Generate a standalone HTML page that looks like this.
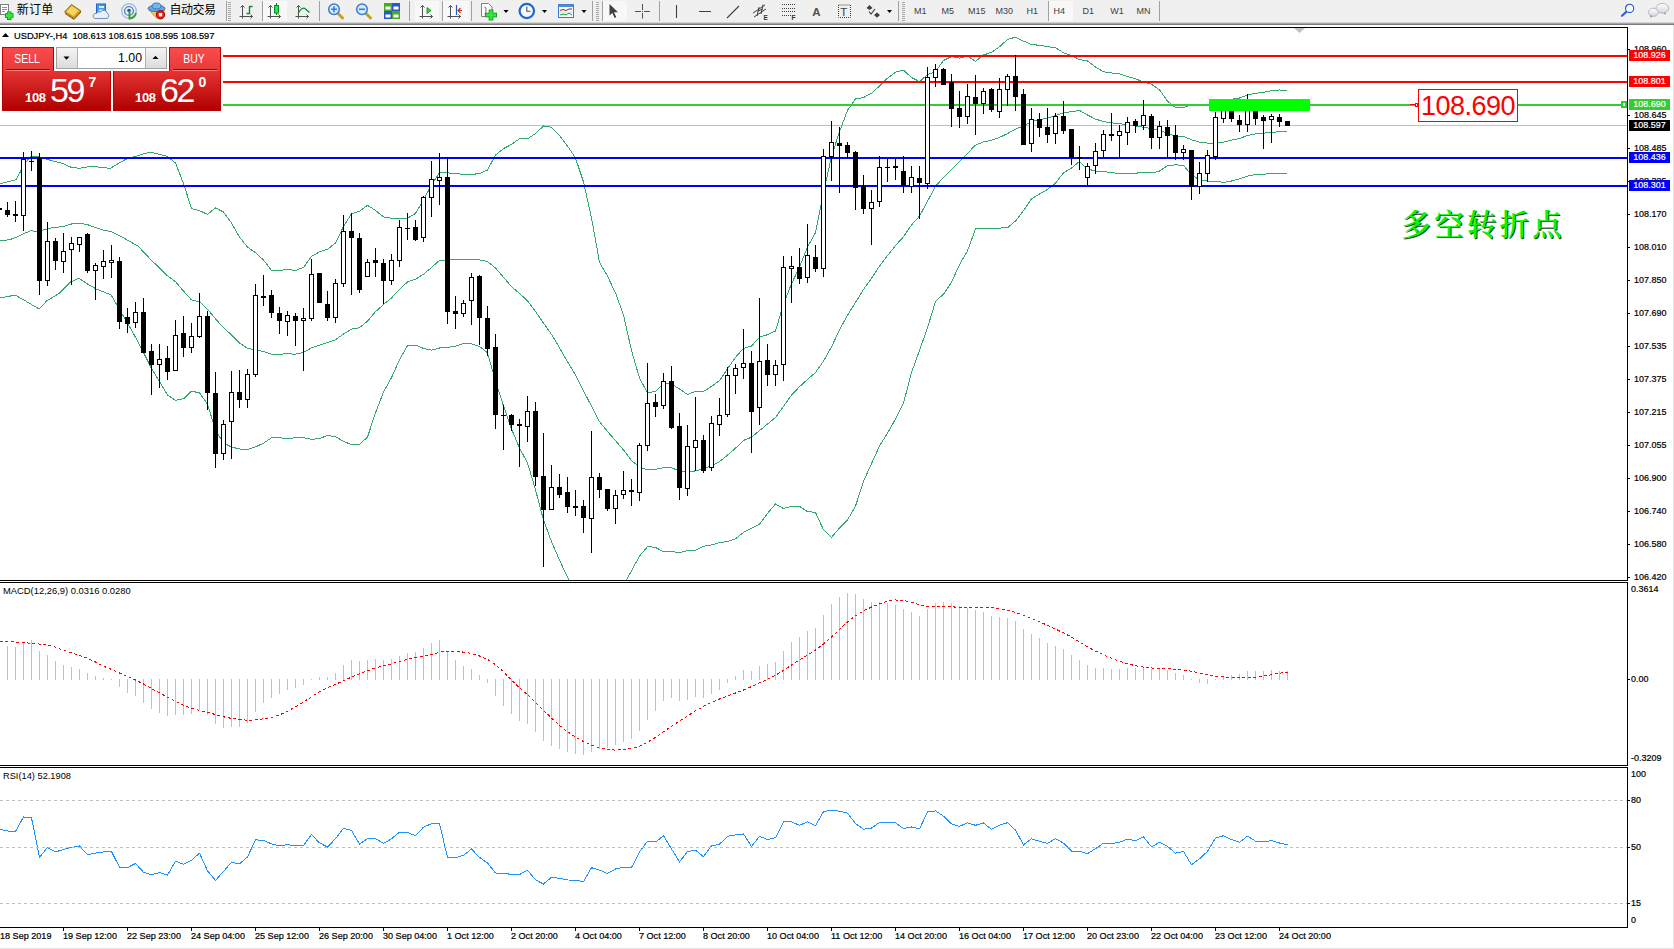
<!DOCTYPE html>
<html><head><meta charset="utf-8"><title>USDJPY H4</title>
<style>
html,body{margin:0;padding:0;background:#fff;}
body{width:1674px;height:949px;position:relative;overflow:hidden;font-family:"Liberation Sans","Noto Sans CJK SC",sans-serif;color:#000;}
.abs{position:absolute;}
#tb{left:0;top:0;width:1674px;height:23px;background:#f0f0f0;}
#tbl{left:0;top:22px;width:1674px;height:3px;background:linear-gradient(#d4d4d4 0 33.3%,#a4a4a4 33.3% 66.6%,#7c7c7c 66.6% 100%);}
#topline{left:0;top:27px;width:1628px;height:1px;background:#000;}
.t{position:absolute;white-space:nowrap;line-height:1;}
.axl,.tl,.plab,#title,.sm{-webkit-text-stroke:0.2px currentColor;}
.tf{position:absolute;top:6px;font-size:9px;color:#404040;white-space:nowrap;line-height:11px;}
.cj{position:absolute;top:3px;font-size:12px;line-height:14px;font-family:"Liberation Sans","Noto Sans CJK SC",sans-serif;white-space:nowrap;color:#000;}
.sep{position:absolute;top:2px;width:1px;height:19px;background:#c4c4c4;}
.grip{position:absolute;top:2px;width:3px;height:19px;background:repeating-linear-gradient(#f0f0f0 0 1px,#a8a8a8 1px 2px);}
.axl{position:absolute;left:1633.6px;margin-top:0.4px;font-size:8.8px;line-height:11px;white-space:nowrap;color:#000;transform:scaleX(1.02);transform-origin:0 50%;}
.tick{position:absolute;left:1627px;width:3px;height:1px;background:#000;}
.plab{position:absolute;left:1629px;width:41px;height:11px;color:#fff;text-align:center;white-space:nowrap;font-size:8.8px;line-height:11px;overflow:hidden;}.plab span{display:block;width:41px;height:11px;padding-top:0.4px;transform:scaleX(1.02);transform-origin:50% 50%;}
.tl{position:absolute;top:931.4px;font-size:8.8px;line-height:11px;white-space:nowrap;color:#000;transform:scaleX(1.031);transform-origin:0 50%;}
.tt{position:absolute;top:927px;width:1px;height:4px;background:#000;}
</style></head><body>
<!-- toolbar -->
<div class="abs" id="tb"></div><div class="abs" id="tbl"></div>
<svg class="abs" style="left:0;top:0" width="1674" height="26" viewBox="0 0 1674 26">
<rect x="263" y="1" width="24" height="20" fill="#f8f8f8"/>
<rect x="415" y="1" width="24" height="20" fill="#f8f8f8"/>
<rect x="443" y="1" width="26" height="20" fill="#f8f8f8"/>
<rect x="603" y="1" width="24" height="20" fill="#f8f8f8"/>
<rect x="1049" y="1" width="24" height="20" fill="#f8f8f8"/>
<rect x="226" y="1" width="1" height="20" fill="#a0a0a0"/>
<rect x="262" y="1" width="1" height="20" fill="#a0a0a0"/>
<rect x="319" y="1" width="1" height="20" fill="#a0a0a0"/>
<rect x="409" y="1" width="1" height="20" fill="#a0a0a0"/>
<rect x="442" y="1" width="1" height="20" fill="#a0a0a0"/>
<rect x="471" y="1" width="1" height="20" fill="#a0a0a0"/>
<rect x="592" y="1" width="1" height="20" fill="#a0a0a0"/>
<rect x="602" y="1" width="1" height="20" fill="#a0a0a0"/>
<rect x="659" y="1" width="1" height="20" fill="#a0a0a0"/>
<rect x="898" y="1" width="1" height="20" fill="#a0a0a0"/>
<rect x="1048" y="1" width="1" height="20" fill="#a0a0a0"/>
<rect x="1159" y="1" width="1" height="20" fill="#a0a0a0"/>
<g fill="#a8a8a8"><rect x="228" y="2" width="3" height="1"/><rect x="228" y="4" width="3" height="1"/><rect x="228" y="6" width="3" height="1"/><rect x="228" y="8" width="3" height="1"/><rect x="228" y="10" width="3" height="1"/><rect x="228" y="12" width="3" height="1"/><rect x="228" y="14" width="3" height="1"/><rect x="228" y="16" width="3" height="1"/><rect x="228" y="18" width="3" height="1"/><rect x="228" y="20" width="3" height="1"/></g>
<g fill="#a8a8a8"><rect x="596" y="2" width="3" height="1"/><rect x="596" y="4" width="3" height="1"/><rect x="596" y="6" width="3" height="1"/><rect x="596" y="8" width="3" height="1"/><rect x="596" y="10" width="3" height="1"/><rect x="596" y="12" width="3" height="1"/><rect x="596" y="14" width="3" height="1"/><rect x="596" y="16" width="3" height="1"/><rect x="596" y="18" width="3" height="1"/><rect x="596" y="20" width="3" height="1"/></g>
<g fill="#a8a8a8"><rect x="902" y="2" width="3" height="1"/><rect x="902" y="4" width="3" height="1"/><rect x="902" y="6" width="3" height="1"/><rect x="902" y="8" width="3" height="1"/><rect x="902" y="10" width="3" height="1"/><rect x="902" y="12" width="3" height="1"/><rect x="902" y="14" width="3" height="1"/><rect x="902" y="16" width="3" height="1"/><rect x="902" y="18" width="3" height="1"/><rect x="902" y="20" width="3" height="1"/></g>
<g><rect x="0.5" y="4.5" width="8" height="10" fill="#fff" stroke="#808080"/><path d="M2 7.5H7M2 9.5H7M2 11.5H5" stroke="#909090"/><path d="M5 15.5H13.5M9.2 11.5V20" stroke="#109010" stroke-width="4.4"/><path d="M5.8 15.5H12.7M9.2 12.3V19.2" stroke="#30e840" stroke-width="2.8"/></g>
<g><polygon points="64.5,12 71.5,4.5 81,11 74,18.5" fill="#d9a520" stroke="#9a6b10" stroke-width="1"/><polygon points="66.5,11.5 71.8,6 78.5,10.5 73.5,16" fill="#f7d560"/><path d="M65 13.5L74 19.5L81 12" stroke="#8a5a10" fill="none"/></g>
<g><rect x="96.5" y="4" width="9" height="9" fill="#4a9ae8" stroke="#1f66c0"/><rect x="99" y="6" width="5" height="2" fill="#d8ecff"/><rect x="99" y="9.5" width="4" height="1.5" fill="#d8ecff"/><path d="M95 18.5h12a3 3 0 0 0 0-5.5a3.5 3.5 0 0 0-6.5-1a3 3 0 0 0-4 1.5a2.6 2.6 0 0 0-1.5 5z" fill="#e8f0fa" stroke="#6f8fc0" stroke-width="1"/></g>
<g fill="none"><circle cx="129" cy="11" r="7.3" stroke="#9fc0e6" stroke-width="1.4"/><circle cx="129" cy="11" r="4.4" stroke="#4f86d0" stroke-width="1.4"/><circle cx="129" cy="10.5" r="1.8" fill="#1f56b0"/><path d="M129.5 11V18.5A7.5 7.5 0 0 0 136 13" stroke="#3aa03a" stroke-width="2"/></g>
<g><path d="M149 10L157 18.5L165 10Z" fill="#f5cf4a" stroke="#c89a20"/><ellipse cx="156.5" cy="8.5" rx="8.5" ry="3.2" fill="#6aa4e0" stroke="#3a74c0"/><ellipse cx="156.5" cy="6" rx="4.5" ry="3" fill="#7ab4ee" stroke="#3a74c0"/><circle cx="160.5" cy="14.7" r="4.2" fill="#e02020" stroke="#a00000"/><rect x="158.8" y="13" width="3.4" height="3.4" fill="#fff"/></g>
<g stroke="#505050" stroke-width="1" fill="none"><path d="M242.5 5.5V18.5M239.5 16.5H252.5M240.5 7.5L242.5 5.5L244.5 7.5M250.5 14.5L252.5 16.5L250.5 18.5"/></g>
<path d="M249.5 6.5H252.5M249.5 6V14M246.5 13.5H249.5" stroke="#0a8a2a" stroke-width="1.4" fill="none"/>
<g stroke="#505050" stroke-width="1" fill="none"><path d="M270.5 5.5V18.5M267.5 16.5H280.5M268.5 7.5L270.5 5.5L272.5 7.5M278.5 14.5L280.5 16.5L278.5 18.5"/></g>
<path d="M276.5 3V15" stroke="#0a7a1a"/><rect x="274.5" y="5.5" width="4" height="7.5" fill="#30e050" stroke="#0a8a2a"/>
<g stroke="#505050" stroke-width="1" fill="none"><path d="M298.5 5.5V18.5M295.5 16.5H308.5M296.5 7.5L298.5 5.5L300.5 7.5M306.5 14.5L308.5 16.5L306.5 18.5"/></g>
<path d="M298 13.5C300.5 9 303.5 7 305.5 9L309.5 12.5" stroke="#0a8a2a" stroke-width="1.2" fill="none"/>
<g><path d="M338 13.5L342.5 18" stroke="#c8a020" stroke-width="3" stroke-linecap="round"/><circle cx="334" cy="9.3" r="5.3" fill="#d8ecff" stroke="#3a7ad0" stroke-width="1.5"/><path d="M331 9.3H337M334 6.3V12.3" stroke="#3a7ad0" stroke-width="1.6"/></g>
<g><path d="M366 13.5L370.5 18" stroke="#c8a020" stroke-width="3" stroke-linecap="round"/><circle cx="362" cy="9.3" r="5.3" fill="#d8ecff" stroke="#3a7ad0" stroke-width="1.5"/><path d="M359 9.3H365" stroke="#3a7ad0" stroke-width="1.6"/></g>
<g><rect x="384" y="3" width="8" height="8" fill="#48a828"/><rect x="392" y="3" width="8" height="8" fill="#2858c8"/><rect x="384" y="11" width="8" height="8" fill="#2858c8"/><rect x="392" y="11" width="8" height="8" fill="#48a828"/><g fill="#fff"><rect x="385.5" y="6.5" width="5" height="3"/><rect x="393.5" y="6.5" width="5" height="3"/><rect x="385.5" y="14.5" width="5" height="3"/><rect x="393.5" y="14.5" width="5" height="3"/></g></g>
<g stroke="#505050" stroke-width="1" fill="none"><path d="M422.5 5.5V18.5M419.5 16.5H432.5M420.5 7.5L422.5 5.5L424.5 7.5M430.5 14.5L432.5 16.5L430.5 18.5"/></g>
<polygon points="427,7.5 431,10.5 427,13.7" fill="#40d040" stroke="#0a8a2a" stroke-width="0.8"/>
<g stroke="#505050" stroke-width="1" fill="none"><path d="M450.5 5.5V18.5M447.5 16.5H460.5M448.5 7.5L450.5 5.5L452.5 7.5M458.5 14.5L460.5 16.5L458.5 18.5"/></g>
<path d="M456.5 5V15" stroke="#2060c0" stroke-width="1.2"/><path d="M462 10.5H458.5M460.5 8L458 10.5L460.5 13" stroke="#d03010" stroke-width="1.2" fill="none"/>
<g><path d="M481.5 3.5h7l3.5 3.5v9.5h-10.5z" fill="#fff" stroke="#808080"/><path d="M484.5 7c2-1 2 8 0 7" stroke="#606060" fill="none"/><path d="M485 15H497M491 9.5V20.6" stroke="#109010" stroke-width="4.6"/><path d="M485.8 15H496.2M491 10.3V19.8" stroke="#30e840" stroke-width="3"/></g>
<polygon points="503.5,10 508.5,10 506.0,13" fill="#000"/>
<polygon points="542,10 547,10 544.5,13" fill="#000"/>
<polygon points="581.5,10 586.5,10 584.0,13" fill="#000"/>
<polygon points="887,10 892,10 889.5,13" fill="#000"/>
<g><circle cx="526.8" cy="11" r="7.2" fill="#f4f8ff" stroke="#1f66d0" stroke-width="2.2"/><path d="M526.8 6.5V11.2H530.5" stroke="#505050" stroke-width="1.1" fill="none"/></g>
<g><rect x="558.5" y="4.5" width="15" height="13" fill="#f8fbff" stroke="#3a7ad0"/><rect x="558.5" y="4.5" width="15" height="2.5" fill="#4a8ae0"/><path d="M560 10.5l3-1l3 1l3-1.5l3 0" stroke="#a02010" fill="none"/><path d="M560 15l3-1l3 1l3-2l3 2" stroke="#10a030" fill="none"/><path d="M559 12.2H573" stroke="#b0c8e8" stroke-width="0.6"/></g>
<polygon points="609.5,4 609.5,15.5 612.3,13 614.6,18 616.3,17.2 614,12.3 618,12.3" fill="#404040"/>
<path d="M642.5 4V10M642.5 13V18.5M635 11.5H641M644 11.5H650" stroke="#505050" stroke-width="1"/><rect x="642" y="11" width="1" height="1" fill="#505050"/>
<path d="M676.5 5V18M699 11.5H711M727 18L739 6" stroke="#404040" stroke-width="1.1" fill="none"/>
<g stroke="#404040" fill="none" stroke-width="1"><path d="M753 13L765 5M754 17L766 9M757 16L759 7M761 14L763 4.5M758 11L763 9"/></g><text x="763.5" y="20" font-size="6.5" font-weight="bold" fill="#303030" font-family="Liberation Sans, sans-serif">E</text>
<g stroke="#404040" stroke-width="1" stroke-dasharray="1,1"><path d="M782 4.5H795M782 8.5H795M782 11.5H795M782 15.5H791"/></g><text x="791.5" y="20" font-size="6.5" font-weight="bold" fill="#303030" font-family="Liberation Sans, sans-serif">F</text>
<text x="812.3" y="16" font-size="11.5" font-weight="bold" fill="#505050" font-family="Liberation Sans, sans-serif">A</text>
<rect x="838.5" y="5" width="12" height="12.5" fill="none" stroke="#404040" stroke-dasharray="1,1"/><text x="840.3" y="15.8" font-size="11.5" fill="#404040" font-family="Liberation Sans, sans-serif">T</text>
<g fill="#404040"><polygon points="866.5,8 869.5,5 872.5,8 869.5,10"/><polygon points="874,15 877,12.5 880,15 877,17.8"/><path d="M869 11.5l2 2.5l4-5" stroke="#404040" fill="none" stroke-width="1.2"/></g>
<g><path d="M1626.4 11.8L1622 15.8" stroke="#3060d8" stroke-width="2.2" stroke-linecap="round"/><circle cx="1629.6" cy="8.4" r="4.1" fill="#f6f8ff" stroke="#2050d0" stroke-width="1.1"/></g>
<defs><linearGradient id="bub" x1="0" y1="0" x2="0" y2="1"><stop offset="0" stop-color="#ffffff"/><stop offset="1" stop-color="#d4d4e4"/></linearGradient></defs><g><ellipse cx="1662.3" cy="8.3" rx="6.4" ry="4.9" fill="url(#bub)" stroke="#b0b0b8" stroke-width="0.9"/><path d="M1664 13l1.2 2l0.3-2.3z" fill="#707070"/><ellipse cx="1653.3" cy="12.3" rx="4.9" ry="4.1" fill="url(#bub)" stroke="#b0b0b8" stroke-width="0.9"/><path d="M1650.5 15.5l-0.3 2.2l2-1.6z" fill="#707070"/></g>
</svg>
<div class="cj" style="left:16.8px;letter-spacing:0.2px">新订单</div>
<div class="cj" style="left:169.5px;letter-spacing:-0.5px">自动交易</div>
<div class="tf" style="left:914px">M1</div>
<div class="tf" style="left:941.5px">M5</div>
<div class="tf" style="left:968px">M15</div>
<div class="tf" style="left:995.5px">M30</div>
<div class="tf" style="left:1026.5px">H1</div>
<div class="tf" style="left:1053.6px">H4</div>
<div class="tf" style="left:1082.4px">D1</div>
<div class="tf" style="left:1110.3px">W1</div>
<div class="tf" style="left:1136.4px">MN</div>
<div class="abs" id="topline"></div>

<!-- chart svg -->
<svg class="abs" style="left:0;top:0" width="1674" height="949" viewBox="0 0 1674 949" shape-rendering="crispEdges">
<!-- grey current price line -->
<rect x="0" y="125" width="1627" height="1" fill="#c0c0c0"/>
<defs><clipPath id="cm"><rect x="0" y="28" width="1627" height="552"/></clipPath></defs>
<g shape-rendering="crispEdges" clip-path="url(#cm)">
<polyline points="0.0,183.6 10.0,181.4 16.0,179.7 20.2,172.1 25.0,163.0 30.3,157.0 36.2,156.1 43.8,158.3 50.6,160.3 62.4,163.4 70.8,167.1 79.2,168.4 91.0,166.2 101.0,167.4 110.4,168.4 118.0,163.7 126.4,159.0 138.2,155.6 148.3,152.5 151.5,152.5 159.5,154.4 167.5,156.5 175.5,163.1 183.5,183.5 191.5,208.6 199.5,210.6 207.5,214.4 215.5,207.9 223.5,212.0 231.5,223.0 239.5,237.2 247.5,247.1 255.5,252.7 263.5,260.0 271.5,270.6 279.5,270.5 287.5,269.4 295.5,270.5 303.5,267.4 311.5,256.5 319.5,251.8 327.5,249.2 335.5,243.1 343.5,226.5 351.5,213.7 359.5,211.2 367.5,205.3 375.5,210.5 383.5,216.9 391.5,218.2 399.5,218.7 407.5,218.3 415.5,213.3 423.5,199.9 431.5,184.8 439.5,172.6 447.5,172.9 455.5,173.5 463.5,174.5 471.5,174.5 479.5,173.5 487.5,170.1 495.5,155.0 503.5,148.6 511.5,144.4 519.5,138.8 527.5,138.8 535.5,133.5 543.5,126.0 551.5,127.2 559.5,135.5 567.5,146.0 575.5,158.1 583.5,181.9 591.5,217.8 599.5,262.3 607.5,276.2 615.5,292.9 623.5,315.0 631.5,350.5 639.5,378.0 647.5,392.9 655.5,391.3 663.5,383.6 671.5,384.0 679.5,389.0 687.5,394.5 695.5,391.4 703.5,391.5 711.5,386.4 719.5,380.7 727.5,368.7 735.5,357.4 743.5,348.4 751.5,346.0 759.5,337.2 767.5,334.7 775.5,331.0 783.5,304.2 791.5,283.8 799.5,267.1 807.5,247.1 815.5,232.5 823.5,192.7 831.5,156.5 839.5,131.7 847.5,110.3 855.5,98.9 863.5,97.5 871.5,93.2 879.5,86.0 887.5,78.2 895.5,72.2 903.5,70.2 911.5,77.5 919.5,81.6 927.5,74.7 935.5,71.5 943.5,60.5 951.5,56.5 959.5,58.1 967.5,56.0 975.5,61.3 983.5,55.0 991.5,52.3 999.5,46.8 1007.5,39.5 1015.5,37.1 1023.5,41.1 1031.5,44.5 1039.5,45.3 1047.5,46.6 1055.5,47.8 1063.5,52.7 1071.5,55.4 1079.5,59.6 1087.5,61.0 1095.5,67.1 1103.5,71.7 1111.5,73.0 1119.5,73.7 1127.5,76.6 1135.5,78.7 1143.5,82.2 1151.5,84.2 1159.5,89.8 1167.5,101.1 1175.5,107.6 1183.5,107.5 1191.5,104.6 1199.5,104.5 1207.5,105.2 1215.5,105.4 1223.5,101.8 1231.5,99.3 1239.5,98.0 1247.5,94.9 1255.5,93.4 1263.5,92.3 1271.5,90.7 1279.5,90.0 1287.5,90.3" fill="none" stroke="#32a86a" stroke-width="1"/>
<polyline points="0.0,240.8 10.0,239.6 17.0,237.0 23.6,233.7 31.2,230.6 36.2,231.7 50.6,228.1 64.0,226.4 72.5,223.7 79.2,223.1 87.7,224.7 101.0,229.5 111.3,231.7 118.0,234.9 128.0,240.4 138.2,246.3 151.5,260.4 159.5,267.9 167.5,275.8 175.5,281.7 183.5,291.1 191.5,299.9 199.5,301.7 207.5,309.2 215.5,318.9 223.5,327.6 231.5,335.0 239.5,343.1 247.5,348.3 255.5,349.8 263.5,351.6 271.5,354.2 279.5,354.2 287.5,353.8 295.5,354.2 303.5,352.5 311.5,347.9 319.5,345.1 327.5,342.4 335.5,339.8 343.5,334.0 351.5,329.1 359.5,327.7 367.5,321.2 375.5,311.7 383.5,304.5 391.5,297.9 399.5,289.3 407.5,282.0 415.5,279.2 423.5,274.2 431.5,267.5 439.5,260.3 447.5,260.1 455.5,259.8 463.5,259.1 471.5,259.2 479.5,259.9 487.5,261.5 495.5,268.1 503.5,277.3 511.5,286.6 519.5,293.4 527.5,300.9 535.5,311.6 543.5,323.1 551.5,334.4 559.5,347.8 567.5,361.7 575.5,375.1 583.5,391.1 591.5,406.0 599.5,421.6 607.5,431.5 615.5,440.6 623.5,449.9 631.5,460.6 639.5,467.0 647.5,469.8 655.5,469.4 663.5,467.6 671.5,467.8 679.5,470.9 687.5,472.6 695.5,470.8 703.5,468.9 711.5,465.6 719.5,461.7 727.5,455.1 735.5,448.2 743.5,440.4 751.5,437.2 759.5,430.7 767.5,424.0 775.5,417.5 783.5,406.4 791.5,395.1 799.5,386.7 807.5,379.4 815.5,372.5 823.5,361.2 831.5,346.9 839.5,329.9 847.5,315.2 855.5,302.5 863.5,289.4 871.5,278.4 879.5,266.0 887.5,255.6 895.5,245.6 903.5,236.7 911.5,225.0 919.5,216.1 927.5,201.2 935.5,186.4 943.5,177.3 951.5,169.4 959.5,161.3 967.5,153.4 975.5,145.1 983.5,141.9 991.5,140.2 999.5,137.4 1007.5,133.6 1015.5,129.1 1023.5,125.9 1031.5,121.7 1039.5,119.7 1047.5,118.0 1055.5,115.5 1063.5,112.7 1071.5,111.7 1079.5,110.5 1087.5,115.0 1095.5,119.1 1103.5,121.5 1111.5,122.9 1119.5,123.6 1127.5,124.9 1135.5,126.0 1143.5,127.2 1151.5,128.6 1159.5,130.4 1167.5,133.4 1175.5,136.2 1183.5,136.4 1191.5,139.8 1199.5,142.1 1207.5,143.1 1215.5,143.2 1223.5,142.1 1231.5,140.1 1239.5,138.5 1247.5,135.5 1255.5,133.9 1263.5,133.2 1271.5,132.3 1279.5,131.8 1287.5,132.0" fill="none" stroke="#32a86a" stroke-width="1"/>
<polyline points="0.0,297.8 15.2,295.2 25.3,300.8 39.2,309.1 46.8,300.8 59.4,293.2 70.8,281.8 78.9,278.3 86.0,283.1 96.0,288.9 111.2,295.0 118.8,308.4 131.5,329.9 141.6,348.8 151.5,368.4 159.5,381.4 167.5,395.0 175.5,400.3 183.5,398.8 191.5,391.2 199.5,392.8 207.5,404.1 215.5,430.0 223.5,443.1 231.5,447.0 239.5,449.0 247.5,449.5 255.5,446.9 263.5,443.2 271.5,437.9 279.5,437.9 287.5,438.2 295.5,437.9 303.5,437.6 311.5,439.4 319.5,438.4 327.5,435.6 335.5,436.5 343.5,441.5 351.5,444.5 359.5,444.3 367.5,437.1 375.5,412.8 383.5,392.1 391.5,377.6 399.5,359.8 407.5,345.6 415.5,345.1 423.5,348.4 431.5,350.2 439.5,348.0 447.5,347.4 455.5,346.1 463.5,343.6 471.5,343.9 479.5,346.4 487.5,352.9 495.5,381.1 503.5,406.0 511.5,428.9 519.5,448.1 527.5,463.0 535.5,489.7 543.5,520.1 551.5,541.6 559.5,560.1 567.5,577.3 575.5,592.0 583.5,600.3 591.5,594.2 599.5,580.9 607.5,586.7 615.5,588.2 623.5,584.8 631.5,570.8 639.5,556.1 647.5,546.6 655.5,547.4 663.5,551.7 671.5,551.5 679.5,552.7 687.5,550.7 695.5,550.1 703.5,546.2 711.5,544.9 719.5,542.7 727.5,541.5 735.5,538.9 743.5,532.4 751.5,528.3 759.5,524.3 767.5,513.4 775.5,504.0 783.5,508.5 791.5,506.4 799.5,506.4 807.5,511.6 815.5,512.4 823.5,529.8 831.5,537.4 839.5,528.0 847.5,520.0 855.5,506.1 863.5,481.4 871.5,463.6 879.5,446.0 887.5,433.1 895.5,419.0 903.5,403.2 911.5,372.5 919.5,350.5 927.5,327.8 935.5,301.4 943.5,294.1 951.5,282.4 959.5,264.6 967.5,250.8 975.5,229.0 983.5,228.7 991.5,228.2 999.5,228.1 1007.5,227.7 1015.5,221.0 1023.5,210.7 1031.5,198.9 1039.5,194.1 1047.5,189.4 1055.5,183.1 1063.5,172.8 1071.5,168.0 1079.5,161.5 1087.5,169.0 1095.5,171.0 1103.5,171.4 1111.5,172.7 1119.5,173.5 1127.5,173.2 1135.5,173.3 1143.5,172.1 1151.5,173.0 1159.5,171.1 1167.5,165.7 1175.5,164.8 1183.5,165.4 1191.5,175.0 1199.5,179.7 1207.5,181.0 1215.5,181.0 1223.5,182.4 1231.5,181.0 1239.5,178.9 1247.5,176.1 1255.5,174.4 1263.5,174.1 1271.5,173.8 1279.5,173.5 1287.5,173.6" fill="none" stroke="#32a86a" stroke-width="1"/>
</g>
<!-- horizontal levels -->
<rect x="223" y="55" width="1404" height="2" fill="#ff0000"/>
<rect x="223" y="81" width="1404" height="2" fill="#ff0000"/>
<rect x="223" y="104" width="1404" height="2" fill="#32cd32"/>
<rect x="0" y="157" width="1627" height="2" fill="#0000ff"/>
<rect x="0" y="185" width="1627" height="2" fill="#0000ff"/>

<rect x="-1" y="208" width="1" height="2" fill="#000"/>
<rect x="-3" y="208" width="5" height="2" fill="#000"/>
<rect x="7" y="202" width="1" height="15" fill="#000"/>
<rect x="5" y="210" width="5" height="5" fill="#000"/>
<rect x="15" y="201" width="1" height="21" fill="#000"/>
<rect x="13" y="214" width="5" height="2" fill="#000"/>
<rect x="23" y="152" width="1" height="79" fill="#000"/>
<rect x="21" y="159" width="5" height="57" fill="#000"/><rect x="22" y="160" width="3" height="55" fill="#fff"/>
<rect x="31" y="151" width="1" height="20" fill="#000"/>
<rect x="29" y="161" width="5" height="1" fill="#000"/>
<rect x="39" y="153" width="1" height="142" fill="#000"/>
<rect x="37" y="158" width="5" height="123" fill="#000"/>
<rect x="47" y="222" width="1" height="64" fill="#000"/>
<rect x="45" y="241" width="5" height="40" fill="#000"/><rect x="46" y="242" width="3" height="38" fill="#fff"/>
<rect x="55" y="238" width="1" height="32" fill="#000"/>
<rect x="53" y="241" width="5" height="20" fill="#000"/>
<rect x="63" y="233" width="1" height="40" fill="#000"/>
<rect x="61" y="251" width="5" height="11" fill="#000"/><rect x="62" y="252" width="3" height="9" fill="#fff"/>
<rect x="71" y="237" width="1" height="48" fill="#000"/>
<rect x="69" y="243" width="5" height="7" fill="#000"/><rect x="70" y="244" width="3" height="5" fill="#fff"/>
<rect x="79" y="237" width="1" height="15" fill="#000"/>
<rect x="77" y="237" width="5" height="8" fill="#000"/><rect x="78" y="238" width="3" height="6" fill="#fff"/>
<rect x="87" y="233" width="1" height="40" fill="#000"/>
<rect x="85" y="234" width="5" height="37" fill="#000"/>
<rect x="95" y="263" width="1" height="37" fill="#000"/>
<rect x="93" y="265" width="5" height="6" fill="#000"/><rect x="94" y="266" width="3" height="4" fill="#fff"/>
<rect x="103" y="250" width="1" height="29" fill="#000"/>
<rect x="101" y="261" width="5" height="6" fill="#000"/><rect x="102" y="262" width="3" height="4" fill="#fff"/>
<rect x="111" y="245" width="1" height="33" fill="#000"/>
<rect x="109" y="260" width="5" height="3" fill="#000"/><rect x="110" y="261" width="3" height="1" fill="#fff"/>
<rect x="119" y="257" width="1" height="72" fill="#000"/>
<rect x="117" y="261" width="5" height="61" fill="#000"/>
<rect x="127" y="308" width="1" height="25" fill="#000"/>
<rect x="125" y="317" width="5" height="7" fill="#000"/>
<rect x="135" y="302" width="1" height="26" fill="#000"/>
<rect x="133" y="312" width="5" height="11" fill="#000"/><rect x="134" y="313" width="3" height="9" fill="#fff"/>
<rect x="143" y="298" width="1" height="55" fill="#000"/>
<rect x="141" y="312" width="5" height="41" fill="#000"/>
<rect x="151" y="344" width="1" height="51" fill="#000"/>
<rect x="149" y="351" width="5" height="14" fill="#000"/>
<rect x="159" y="344" width="1" height="44" fill="#000"/>
<rect x="157" y="359" width="5" height="6" fill="#000"/><rect x="158" y="360" width="3" height="4" fill="#fff"/>
<rect x="167" y="346" width="1" height="34" fill="#000"/>
<rect x="165" y="358" width="5" height="14" fill="#000"/>
<rect x="175" y="320" width="1" height="51" fill="#000"/>
<rect x="173" y="335" width="5" height="36" fill="#000"/><rect x="174" y="336" width="3" height="34" fill="#fff"/>
<rect x="183" y="316" width="1" height="41" fill="#000"/>
<rect x="181" y="333" width="5" height="15" fill="#000"/>
<rect x="191" y="323" width="1" height="30" fill="#000"/>
<rect x="189" y="336" width="5" height="12" fill="#000"/><rect x="190" y="337" width="3" height="10" fill="#fff"/>
<rect x="199" y="293" width="1" height="45" fill="#000"/>
<rect x="197" y="316" width="5" height="21" fill="#000"/><rect x="198" y="317" width="3" height="19" fill="#fff"/>
<rect x="207" y="311" width="1" height="99" fill="#000"/>
<rect x="205" y="316" width="5" height="77" fill="#000"/>
<rect x="215" y="372" width="1" height="96" fill="#000"/>
<rect x="213" y="393" width="5" height="61" fill="#000"/>
<rect x="223" y="420" width="1" height="40" fill="#000"/>
<rect x="221" y="424" width="5" height="30" fill="#000"/><rect x="222" y="425" width="3" height="28" fill="#fff"/>
<rect x="231" y="371" width="1" height="88" fill="#000"/>
<rect x="229" y="392" width="5" height="30" fill="#000"/><rect x="230" y="393" width="3" height="28" fill="#fff"/>
<rect x="239" y="370" width="1" height="38" fill="#000"/>
<rect x="237" y="392" width="5" height="8" fill="#000"/>
<rect x="247" y="369" width="1" height="39" fill="#000"/>
<rect x="245" y="374" width="5" height="26" fill="#000"/><rect x="246" y="375" width="3" height="24" fill="#fff"/>
<rect x="255" y="284" width="1" height="93" fill="#000"/>
<rect x="253" y="295" width="5" height="80" fill="#000"/><rect x="254" y="296" width="3" height="78" fill="#fff"/>
<rect x="263" y="275" width="1" height="31" fill="#000"/>
<rect x="261" y="296" width="5" height="2" fill="#000"/>
<rect x="271" y="290" width="1" height="28" fill="#000"/>
<rect x="269" y="295" width="5" height="18" fill="#000"/>
<rect x="279" y="307" width="1" height="27" fill="#000"/>
<rect x="277" y="313" width="5" height="8" fill="#000"/>
<rect x="287" y="311" width="1" height="25" fill="#000"/>
<rect x="285" y="315" width="5" height="7" fill="#000"/><rect x="286" y="316" width="3" height="5" fill="#fff"/>
<rect x="295" y="313" width="1" height="33" fill="#000"/>
<rect x="293" y="316" width="5" height="5" fill="#000"/>
<rect x="303" y="308" width="1" height="63" fill="#000"/>
<rect x="301" y="318" width="5" height="3" fill="#000"/><rect x="302" y="319" width="3" height="1" fill="#fff"/>
<rect x="311" y="259" width="1" height="62" fill="#000"/>
<rect x="309" y="274" width="5" height="45" fill="#000"/><rect x="310" y="275" width="3" height="43" fill="#fff"/>
<rect x="319" y="273" width="1" height="30" fill="#000"/>
<rect x="317" y="273" width="5" height="30" fill="#000"/>
<rect x="327" y="291" width="1" height="30" fill="#000"/>
<rect x="325" y="304" width="5" height="14" fill="#000"/>
<rect x="335" y="279" width="1" height="44" fill="#000"/>
<rect x="333" y="283" width="5" height="35" fill="#000"/><rect x="334" y="284" width="3" height="33" fill="#fff"/>
<rect x="343" y="215" width="1" height="72" fill="#000"/>
<rect x="341" y="231" width="5" height="53" fill="#000"/><rect x="342" y="232" width="3" height="51" fill="#fff"/>
<rect x="351" y="213" width="1" height="82" fill="#000"/>
<rect x="349" y="231" width="5" height="7" fill="#000"/>
<rect x="359" y="233" width="1" height="60" fill="#000"/>
<rect x="357" y="238" width="5" height="52" fill="#000"/>
<rect x="367" y="259" width="1" height="18" fill="#000"/>
<rect x="365" y="262" width="5" height="15" fill="#000"/><rect x="366" y="263" width="3" height="13" fill="#fff"/>
<rect x="375" y="248" width="1" height="29" fill="#000"/>
<rect x="373" y="260" width="5" height="3" fill="#000"/>
<rect x="383" y="259" width="1" height="45" fill="#000"/>
<rect x="381" y="263" width="5" height="18" fill="#000"/>
<rect x="391" y="254" width="1" height="31" fill="#000"/>
<rect x="389" y="260" width="5" height="21" fill="#000"/><rect x="390" y="261" width="3" height="19" fill="#fff"/>
<rect x="399" y="220" width="1" height="47" fill="#000"/>
<rect x="397" y="227" width="5" height="34" fill="#000"/><rect x="398" y="228" width="3" height="32" fill="#fff"/>
<rect x="407" y="213" width="1" height="27" fill="#000"/>
<rect x="405" y="228" width="5" height="1" fill="#000"/>
<rect x="415" y="220" width="1" height="21" fill="#000"/>
<rect x="413" y="227" width="5" height="13" fill="#000"/>
<rect x="423" y="196" width="1" height="46" fill="#000"/>
<rect x="421" y="197" width="5" height="41" fill="#000"/><rect x="422" y="198" width="3" height="39" fill="#fff"/>
<rect x="431" y="161" width="1" height="56" fill="#000"/>
<rect x="429" y="179" width="5" height="19" fill="#000"/><rect x="430" y="180" width="3" height="17" fill="#fff"/>
<rect x="439" y="153" width="1" height="52" fill="#000"/>
<rect x="437" y="177" width="5" height="4" fill="#000"/><rect x="438" y="178" width="3" height="2" fill="#fff"/>
<rect x="447" y="157" width="1" height="167" fill="#000"/>
<rect x="445" y="177" width="5" height="135" fill="#000"/>
<rect x="455" y="296" width="1" height="33" fill="#000"/>
<rect x="453" y="311" width="5" height="3" fill="#000"/>
<rect x="463" y="300" width="1" height="17" fill="#000"/>
<rect x="461" y="303" width="5" height="11" fill="#000"/><rect x="462" y="304" width="3" height="9" fill="#fff"/>
<rect x="471" y="273" width="1" height="52" fill="#000"/>
<rect x="469" y="277" width="5" height="24" fill="#000"/><rect x="470" y="278" width="3" height="22" fill="#fff"/>
<rect x="479" y="275" width="1" height="70" fill="#000"/>
<rect x="477" y="276" width="5" height="42" fill="#000"/>
<rect x="487" y="306" width="1" height="50" fill="#000"/>
<rect x="485" y="318" width="5" height="31" fill="#000"/>
<rect x="495" y="334" width="1" height="95" fill="#000"/>
<rect x="493" y="347" width="5" height="68" fill="#000"/>
<rect x="503" y="405" width="1" height="45" fill="#000"/>
<rect x="501" y="415" width="5" height="1" fill="#000"/>
<rect x="511" y="414" width="1" height="17" fill="#000"/>
<rect x="509" y="415" width="5" height="10" fill="#000"/>
<rect x="519" y="419" width="1" height="48" fill="#000"/>
<rect x="517" y="424" width="5" height="2" fill="#000"/>
<rect x="527" y="396" width="1" height="46" fill="#000"/>
<rect x="525" y="411" width="5" height="16" fill="#000"/><rect x="526" y="412" width="3" height="14" fill="#fff"/>
<rect x="535" y="402" width="1" height="84" fill="#000"/>
<rect x="533" y="411" width="5" height="66" fill="#000"/>
<rect x="543" y="433" width="1" height="134" fill="#000"/>
<rect x="541" y="476" width="5" height="34" fill="#000"/>
<rect x="551" y="465" width="1" height="45" fill="#000"/>
<rect x="549" y="487" width="5" height="23" fill="#000"/><rect x="550" y="488" width="3" height="21" fill="#fff"/>
<rect x="559" y="474" width="1" height="24" fill="#000"/>
<rect x="557" y="487" width="5" height="8" fill="#000"/>
<rect x="567" y="477" width="1" height="36" fill="#000"/>
<rect x="565" y="492" width="5" height="15" fill="#000"/>
<rect x="575" y="490" width="1" height="26" fill="#000"/>
<rect x="573" y="506" width="5" height="2" fill="#000"/>
<rect x="583" y="500" width="1" height="33" fill="#000"/>
<rect x="581" y="506" width="5" height="12" fill="#000"/>
<rect x="591" y="431" width="1" height="122" fill="#000"/>
<rect x="589" y="477" width="5" height="42" fill="#000"/><rect x="590" y="478" width="3" height="40" fill="#fff"/>
<rect x="599" y="473" width="1" height="25" fill="#000"/>
<rect x="597" y="477" width="5" height="13" fill="#000"/>
<rect x="607" y="489" width="1" height="22" fill="#000"/>
<rect x="605" y="489" width="5" height="20" fill="#000"/>
<rect x="615" y="490" width="1" height="34" fill="#000"/>
<rect x="613" y="495" width="5" height="14" fill="#000"/><rect x="614" y="496" width="3" height="12" fill="#fff"/>
<rect x="623" y="471" width="1" height="28" fill="#000"/>
<rect x="621" y="490" width="5" height="5" fill="#000"/><rect x="622" y="491" width="3" height="3" fill="#fff"/>
<rect x="631" y="479" width="1" height="27" fill="#000"/>
<rect x="629" y="490" width="5" height="2" fill="#000"/>
<rect x="639" y="443" width="1" height="58" fill="#000"/>
<rect x="637" y="445" width="5" height="48" fill="#000"/><rect x="638" y="446" width="3" height="46" fill="#fff"/>
<rect x="647" y="363" width="1" height="88" fill="#000"/>
<rect x="645" y="403" width="5" height="43" fill="#000"/><rect x="646" y="404" width="3" height="41" fill="#fff"/>
<rect x="655" y="394" width="1" height="23" fill="#000"/>
<rect x="653" y="402" width="5" height="5" fill="#000"/>
<rect x="663" y="373" width="1" height="36" fill="#000"/>
<rect x="661" y="381" width="5" height="25" fill="#000"/><rect x="662" y="382" width="3" height="23" fill="#fff"/>
<rect x="671" y="366" width="1" height="63" fill="#000"/>
<rect x="669" y="381" width="5" height="47" fill="#000"/>
<rect x="679" y="413" width="1" height="87" fill="#000"/>
<rect x="677" y="426" width="5" height="62" fill="#000"/>
<rect x="687" y="425" width="1" height="71" fill="#000"/>
<rect x="685" y="446" width="5" height="43" fill="#000"/><rect x="686" y="447" width="3" height="41" fill="#fff"/>
<rect x="695" y="397" width="1" height="74" fill="#000"/>
<rect x="693" y="440" width="5" height="8" fill="#000"/><rect x="694" y="441" width="3" height="6" fill="#fff"/>
<rect x="703" y="435" width="1" height="38" fill="#000"/>
<rect x="701" y="440" width="5" height="31" fill="#000"/>
<rect x="711" y="416" width="1" height="55" fill="#000"/>
<rect x="709" y="423" width="5" height="45" fill="#000"/><rect x="710" y="424" width="3" height="43" fill="#fff"/>
<rect x="719" y="398" width="1" height="38" fill="#000"/>
<rect x="717" y="415" width="5" height="10" fill="#000"/><rect x="718" y="416" width="3" height="8" fill="#fff"/>
<rect x="727" y="367" width="1" height="50" fill="#000"/>
<rect x="725" y="375" width="5" height="40" fill="#000"/><rect x="726" y="376" width="3" height="38" fill="#fff"/>
<rect x="735" y="364" width="1" height="30" fill="#000"/>
<rect x="733" y="368" width="5" height="8" fill="#000"/><rect x="734" y="369" width="3" height="6" fill="#fff"/>
<rect x="743" y="329" width="1" height="50" fill="#000"/>
<rect x="741" y="363" width="5" height="5" fill="#000"/><rect x="742" y="364" width="3" height="3" fill="#fff"/>
<rect x="751" y="351" width="1" height="102" fill="#000"/>
<rect x="749" y="363" width="5" height="49" fill="#000"/>
<rect x="759" y="298" width="1" height="127" fill="#000"/>
<rect x="757" y="361" width="5" height="47" fill="#000"/><rect x="758" y="362" width="3" height="45" fill="#fff"/>
<rect x="767" y="344" width="1" height="42" fill="#000"/>
<rect x="765" y="360" width="5" height="15" fill="#000"/>
<rect x="775" y="360" width="1" height="26" fill="#000"/>
<rect x="773" y="365" width="5" height="10" fill="#000"/><rect x="774" y="366" width="3" height="8" fill="#fff"/>
<rect x="783" y="256" width="1" height="125" fill="#000"/>
<rect x="781" y="267" width="5" height="98" fill="#000"/><rect x="782" y="268" width="3" height="96" fill="#fff"/>
<rect x="791" y="256" width="1" height="47" fill="#000"/>
<rect x="789" y="266" width="5" height="3" fill="#000"/><rect x="790" y="267" width="3" height="1" fill="#fff"/>
<rect x="799" y="248" width="1" height="36" fill="#000"/>
<rect x="797" y="267" width="5" height="12" fill="#000"/>
<rect x="807" y="224" width="1" height="59" fill="#000"/>
<rect x="805" y="255" width="5" height="23" fill="#000"/><rect x="806" y="256" width="3" height="21" fill="#fff"/>
<rect x="815" y="245" width="1" height="27" fill="#000"/>
<rect x="813" y="257" width="5" height="12" fill="#000"/>
<rect x="823" y="149" width="1" height="128" fill="#000"/>
<rect x="821" y="156" width="5" height="113" fill="#000"/><rect x="822" y="157" width="3" height="111" fill="#fff"/>
<rect x="831" y="121" width="1" height="60" fill="#000"/>
<rect x="829" y="142" width="5" height="15" fill="#000"/><rect x="830" y="143" width="3" height="13" fill="#fff"/>
<rect x="839" y="127" width="1" height="66" fill="#000"/>
<rect x="837" y="143" width="5" height="3" fill="#000"/>
<rect x="847" y="142" width="1" height="16" fill="#000"/>
<rect x="845" y="145" width="5" height="8" fill="#000"/>
<rect x="855" y="151" width="1" height="59" fill="#000"/>
<rect x="853" y="152" width="5" height="36" fill="#000"/>
<rect x="863" y="175" width="1" height="39" fill="#000"/>
<rect x="861" y="186" width="5" height="23" fill="#000"/>
<rect x="871" y="190" width="1" height="55" fill="#000"/>
<rect x="869" y="202" width="5" height="7" fill="#000"/><rect x="870" y="203" width="3" height="5" fill="#fff"/>
<rect x="879" y="156" width="1" height="51" fill="#000"/>
<rect x="877" y="167" width="5" height="35" fill="#000"/><rect x="878" y="168" width="3" height="33" fill="#fff"/>
<rect x="887" y="158" width="1" height="24" fill="#000"/>
<rect x="885" y="167" width="5" height="1" fill="#000"/>
<rect x="895" y="158" width="1" height="22" fill="#000"/>
<rect x="893" y="166" width="5" height="2" fill="#000"/>
<rect x="903" y="156" width="1" height="37" fill="#000"/>
<rect x="901" y="171" width="5" height="15" fill="#000"/>
<rect x="911" y="166" width="1" height="27" fill="#000"/>
<rect x="909" y="177" width="5" height="10" fill="#000"/><rect x="910" y="178" width="3" height="8" fill="#fff"/>
<rect x="919" y="166" width="1" height="53" fill="#000"/>
<rect x="917" y="178" width="5" height="5" fill="#000"/>
<rect x="927" y="67" width="1" height="122" fill="#000"/>
<rect x="925" y="77" width="5" height="107" fill="#000"/><rect x="926" y="78" width="3" height="105" fill="#fff"/>
<rect x="935" y="64" width="1" height="23" fill="#000"/>
<rect x="933" y="69" width="5" height="9" fill="#000"/><rect x="934" y="70" width="3" height="7" fill="#fff"/>
<rect x="943" y="68" width="1" height="17" fill="#000"/>
<rect x="941" y="69" width="5" height="16" fill="#000"/>
<rect x="951" y="74" width="1" height="53" fill="#000"/>
<rect x="949" y="82" width="5" height="27" fill="#000"/>
<rect x="959" y="91" width="1" height="37" fill="#000"/>
<rect x="957" y="108" width="5" height="9" fill="#000"/>
<rect x="967" y="84" width="1" height="40" fill="#000"/>
<rect x="965" y="96" width="5" height="21" fill="#000"/><rect x="966" y="97" width="3" height="19" fill="#fff"/>
<rect x="975" y="75" width="1" height="60" fill="#000"/>
<rect x="973" y="97" width="5" height="7" fill="#000"/>
<rect x="983" y="88" width="1" height="26" fill="#000"/>
<rect x="981" y="91" width="5" height="13" fill="#000"/><rect x="982" y="92" width="3" height="11" fill="#fff"/>
<rect x="991" y="88" width="1" height="24" fill="#000"/>
<rect x="989" y="89" width="5" height="21" fill="#000"/>
<rect x="999" y="78" width="1" height="40" fill="#000"/>
<rect x="997" y="89" width="5" height="23" fill="#000"/><rect x="998" y="90" width="3" height="21" fill="#fff"/>
<rect x="1007" y="74" width="1" height="32" fill="#000"/>
<rect x="1005" y="76" width="5" height="14" fill="#000"/><rect x="1006" y="77" width="3" height="12" fill="#fff"/>
<rect x="1015" y="55" width="1" height="56" fill="#000"/>
<rect x="1013" y="76" width="5" height="21" fill="#000"/>
<rect x="1023" y="89" width="1" height="56" fill="#000"/>
<rect x="1021" y="94" width="5" height="51" fill="#000"/>
<rect x="1031" y="108" width="1" height="44" fill="#000"/>
<rect x="1029" y="119" width="5" height="25" fill="#000"/><rect x="1030" y="120" width="3" height="23" fill="#fff"/>
<rect x="1039" y="113" width="1" height="24" fill="#000"/>
<rect x="1037" y="119" width="5" height="9" fill="#000"/>
<rect x="1047" y="108" width="1" height="35" fill="#000"/>
<rect x="1045" y="127" width="5" height="8" fill="#000"/>
<rect x="1055" y="113" width="1" height="31" fill="#000"/>
<rect x="1053" y="116" width="5" height="18" fill="#000"/><rect x="1054" y="117" width="3" height="16" fill="#fff"/>
<rect x="1063" y="101" width="1" height="33" fill="#000"/>
<rect x="1061" y="116" width="5" height="15" fill="#000"/>
<rect x="1071" y="129" width="1" height="36" fill="#000"/>
<rect x="1069" y="129" width="5" height="29" fill="#000"/>
<rect x="1079" y="146" width="1" height="24" fill="#000"/>
<rect x="1077" y="157" width="5" height="2" fill="#000"/>
<rect x="1087" y="163" width="1" height="22" fill="#000"/>
<rect x="1085" y="166" width="5" height="12" fill="#000"/><rect x="1086" y="167" width="3" height="10" fill="#fff"/>
<rect x="1095" y="143" width="1" height="31" fill="#000"/>
<rect x="1093" y="151" width="5" height="15" fill="#000"/><rect x="1094" y="152" width="3" height="13" fill="#fff"/>
<rect x="1103" y="130" width="1" height="27" fill="#000"/>
<rect x="1101" y="134" width="5" height="17" fill="#000"/><rect x="1102" y="135" width="3" height="15" fill="#fff"/>
<rect x="1111" y="113" width="1" height="28" fill="#000"/>
<rect x="1109" y="134" width="5" height="2" fill="#000"/>
<rect x="1119" y="125" width="1" height="32" fill="#000"/>
<rect x="1117" y="131" width="5" height="5" fill="#000"/><rect x="1118" y="132" width="3" height="3" fill="#fff"/>
<rect x="1127" y="117" width="1" height="28" fill="#000"/>
<rect x="1125" y="122" width="5" height="11" fill="#000"/><rect x="1126" y="123" width="3" height="9" fill="#fff"/>
<rect x="1135" y="119" width="1" height="14" fill="#000"/>
<rect x="1133" y="121" width="5" height="5" fill="#000"/>
<rect x="1143" y="100" width="1" height="30" fill="#000"/>
<rect x="1141" y="115" width="5" height="11" fill="#000"/><rect x="1142" y="116" width="3" height="9" fill="#fff"/>
<rect x="1151" y="114" width="1" height="35" fill="#000"/>
<rect x="1149" y="116" width="5" height="22" fill="#000"/>
<rect x="1159" y="121" width="1" height="28" fill="#000"/>
<rect x="1157" y="126" width="5" height="12" fill="#000"/><rect x="1158" y="127" width="3" height="10" fill="#fff"/>
<rect x="1167" y="120" width="1" height="37" fill="#000"/>
<rect x="1165" y="127" width="5" height="9" fill="#000"/>
<rect x="1175" y="125" width="1" height="35" fill="#000"/>
<rect x="1173" y="135" width="5" height="18" fill="#000"/>
<rect x="1183" y="145" width="1" height="15" fill="#000"/>
<rect x="1181" y="149" width="5" height="4" fill="#000"/><rect x="1182" y="150" width="3" height="2" fill="#fff"/>
<rect x="1191" y="150" width="1" height="50" fill="#000"/>
<rect x="1189" y="150" width="5" height="37" fill="#000"/>
<rect x="1199" y="162" width="1" height="32" fill="#000"/>
<rect x="1197" y="173" width="5" height="14" fill="#000"/><rect x="1198" y="174" width="3" height="12" fill="#fff"/>
<rect x="1207" y="150" width="1" height="32" fill="#000"/>
<rect x="1205" y="155" width="5" height="19" fill="#000"/><rect x="1206" y="156" width="3" height="17" fill="#fff"/>
<rect x="1215" y="112" width="1" height="48" fill="#000"/>
<rect x="1213" y="117" width="5" height="40" fill="#000"/><rect x="1214" y="118" width="3" height="38" fill="#fff"/>
<rect x="1223" y="104" width="1" height="19" fill="#000"/>
<rect x="1221" y="109" width="5" height="10" fill="#000"/><rect x="1222" y="110" width="3" height="8" fill="#fff"/>
<rect x="1231" y="104" width="1" height="18" fill="#000"/>
<rect x="1229" y="106" width="5" height="13" fill="#000"/>
<rect x="1239" y="115" width="1" height="17" fill="#000"/>
<rect x="1237" y="120" width="5" height="5" fill="#000"/>
<rect x="1247" y="94" width="1" height="38" fill="#000"/>
<rect x="1245" y="107" width="5" height="18" fill="#000"/><rect x="1246" y="108" width="3" height="16" fill="#fff"/>
<rect x="1255" y="103" width="1" height="22" fill="#000"/>
<rect x="1253" y="104" width="5" height="15" fill="#000"/>
<rect x="1263" y="115" width="1" height="34" fill="#000"/>
<rect x="1261" y="117" width="5" height="4" fill="#000"/>
<rect x="1271" y="114" width="1" height="29" fill="#000"/>
<rect x="1269" y="116" width="5" height="4" fill="#000"/><rect x="1270" y="117" width="3" height="2" fill="#fff"/>
<rect x="1279" y="114" width="1" height="13" fill="#000"/>
<rect x="1277" y="117" width="5" height="5" fill="#000"/>
<rect x="1287" y="121" width="1" height="5" fill="#000"/>
<rect x="1285" y="121" width="5" height="5" fill="#000"/>
<rect x="7" y="646" width="1" height="34" fill="#c0c0c0"/>
<rect x="15" y="647" width="1" height="33" fill="#c0c0c0"/>
<rect x="23" y="643" width="1" height="37" fill="#c0c0c0"/>
<rect x="31" y="640" width="1" height="40" fill="#c0c0c0"/>
<rect x="39" y="651" width="1" height="29" fill="#c0c0c0"/>
<rect x="47" y="655" width="1" height="25" fill="#c0c0c0"/>
<rect x="55" y="661" width="1" height="19" fill="#c0c0c0"/>
<rect x="63" y="665" width="1" height="15" fill="#c0c0c0"/>
<rect x="71" y="667" width="1" height="13" fill="#c0c0c0"/>
<rect x="79" y="669" width="1" height="11" fill="#c0c0c0"/>
<rect x="87" y="673" width="1" height="7" fill="#c0c0c0"/>
<rect x="95" y="676" width="1" height="4" fill="#c0c0c0"/>
<rect x="103" y="678" width="1" height="2" fill="#c0c0c0"/>
<rect x="111" y="679" width="1" height="1" fill="#c0c0c0"/>
<rect x="119" y="679" width="1" height="8" fill="#c0c0c0"/>
<rect x="127" y="679" width="1" height="14" fill="#c0c0c0"/>
<rect x="135" y="679" width="1" height="17" fill="#c0c0c0"/>
<rect x="143" y="679" width="1" height="24" fill="#c0c0c0"/>
<rect x="151" y="679" width="1" height="30" fill="#c0c0c0"/>
<rect x="159" y="679" width="1" height="34" fill="#c0c0c0"/>
<rect x="167" y="679" width="1" height="37" fill="#c0c0c0"/>
<rect x="175" y="679" width="1" height="36" fill="#c0c0c0"/>
<rect x="183" y="679" width="1" height="36" fill="#c0c0c0"/>
<rect x="191" y="679" width="1" height="35" fill="#c0c0c0"/>
<rect x="199" y="679" width="1" height="31" fill="#c0c0c0"/>
<rect x="207" y="679" width="1" height="36" fill="#c0c0c0"/>
<rect x="215" y="679" width="1" height="45" fill="#c0c0c0"/>
<rect x="223" y="679" width="1" height="49" fill="#c0c0c0"/>
<rect x="231" y="679" width="1" height="48" fill="#c0c0c0"/>
<rect x="239" y="679" width="1" height="48" fill="#c0c0c0"/>
<rect x="247" y="679" width="1" height="44" fill="#c0c0c0"/>
<rect x="255" y="679" width="1" height="33" fill="#c0c0c0"/>
<rect x="263" y="679" width="1" height="24" fill="#c0c0c0"/>
<rect x="271" y="679" width="1" height="19" fill="#c0c0c0"/>
<rect x="279" y="679" width="1" height="15" fill="#c0c0c0"/>
<rect x="287" y="679" width="1" height="11" fill="#c0c0c0"/>
<rect x="295" y="679" width="1" height="9" fill="#c0c0c0"/>
<rect x="303" y="679" width="1" height="6" fill="#c0c0c0"/>
<rect x="311" y="679" width="1" height="1" fill="#c0c0c0"/>
<rect x="319" y="677" width="1" height="3" fill="#c0c0c0"/>
<rect x="327" y="677" width="1" height="3" fill="#c0c0c0"/>
<rect x="335" y="673" width="1" height="7" fill="#c0c0c0"/>
<rect x="343" y="665" width="1" height="15" fill="#c0c0c0"/>
<rect x="351" y="660" width="1" height="20" fill="#c0c0c0"/>
<rect x="359" y="661" width="1" height="19" fill="#c0c0c0"/>
<rect x="367" y="660" width="1" height="20" fill="#c0c0c0"/>
<rect x="375" y="659" width="1" height="21" fill="#c0c0c0"/>
<rect x="383" y="660" width="1" height="20" fill="#c0c0c0"/>
<rect x="391" y="659" width="1" height="21" fill="#c0c0c0"/>
<rect x="399" y="656" width="1" height="24" fill="#c0c0c0"/>
<rect x="407" y="653" width="1" height="27" fill="#c0c0c0"/>
<rect x="415" y="652" width="1" height="28" fill="#c0c0c0"/>
<rect x="423" y="648" width="1" height="32" fill="#c0c0c0"/>
<rect x="431" y="643" width="1" height="37" fill="#c0c0c0"/>
<rect x="439" y="640" width="1" height="40" fill="#c0c0c0"/>
<rect x="447" y="651" width="1" height="29" fill="#c0c0c0"/>
<rect x="455" y="660" width="1" height="20" fill="#c0c0c0"/>
<rect x="463" y="666" width="1" height="14" fill="#c0c0c0"/>
<rect x="471" y="669" width="1" height="11" fill="#c0c0c0"/>
<rect x="479" y="675" width="1" height="5" fill="#c0c0c0"/>
<rect x="487" y="679" width="1" height="4" fill="#c0c0c0"/>
<rect x="495" y="679" width="1" height="17" fill="#c0c0c0"/>
<rect x="503" y="679" width="1" height="27" fill="#c0c0c0"/>
<rect x="511" y="679" width="1" height="35" fill="#c0c0c0"/>
<rect x="519" y="679" width="1" height="42" fill="#c0c0c0"/>
<rect x="527" y="679" width="1" height="45" fill="#c0c0c0"/>
<rect x="535" y="679" width="1" height="53" fill="#c0c0c0"/>
<rect x="543" y="679" width="1" height="62" fill="#c0c0c0"/>
<rect x="551" y="679" width="1" height="67" fill="#c0c0c0"/>
<rect x="559" y="679" width="1" height="70" fill="#c0c0c0"/>
<rect x="567" y="679" width="1" height="73" fill="#c0c0c0"/>
<rect x="575" y="679" width="1" height="75" fill="#c0c0c0"/>
<rect x="583" y="679" width="1" height="76" fill="#c0c0c0"/>
<rect x="591" y="679" width="1" height="73" fill="#c0c0c0"/>
<rect x="599" y="679" width="1" height="70" fill="#c0c0c0"/>
<rect x="607" y="679" width="1" height="69" fill="#c0c0c0"/>
<rect x="615" y="679" width="1" height="66" fill="#c0c0c0"/>
<rect x="623" y="679" width="1" height="63" fill="#c0c0c0"/>
<rect x="631" y="679" width="1" height="60" fill="#c0c0c0"/>
<rect x="639" y="679" width="1" height="52" fill="#c0c0c0"/>
<rect x="647" y="679" width="1" height="41" fill="#c0c0c0"/>
<rect x="655" y="679" width="1" height="32" fill="#c0c0c0"/>
<rect x="663" y="679" width="1" height="22" fill="#c0c0c0"/>
<rect x="671" y="679" width="1" height="19" fill="#c0c0c0"/>
<rect x="679" y="679" width="1" height="22" fill="#c0c0c0"/>
<rect x="687" y="679" width="1" height="21" fill="#c0c0c0"/>
<rect x="695" y="679" width="1" height="18" fill="#c0c0c0"/>
<rect x="703" y="679" width="1" height="19" fill="#c0c0c0"/>
<rect x="711" y="679" width="1" height="15" fill="#c0c0c0"/>
<rect x="719" y="679" width="1" height="11" fill="#c0c0c0"/>
<rect x="727" y="679" width="1" height="4" fill="#c0c0c0"/>
<rect x="735" y="676" width="1" height="4" fill="#c0c0c0"/>
<rect x="743" y="670" width="1" height="10" fill="#c0c0c0"/>
<rect x="751" y="671" width="1" height="9" fill="#c0c0c0"/>
<rect x="759" y="666" width="1" height="14" fill="#c0c0c0"/>
<rect x="767" y="664" width="1" height="16" fill="#c0c0c0"/>
<rect x="775" y="662" width="1" height="18" fill="#c0c0c0"/>
<rect x="783" y="651" width="1" height="29" fill="#c0c0c0"/>
<rect x="791" y="642" width="1" height="38" fill="#c0c0c0"/>
<rect x="799" y="637" width="1" height="43" fill="#c0c0c0"/>
<rect x="807" y="631" width="1" height="49" fill="#c0c0c0"/>
<rect x="815" y="628" width="1" height="52" fill="#c0c0c0"/>
<rect x="823" y="615" width="1" height="65" fill="#c0c0c0"/>
<rect x="831" y="604" width="1" height="76" fill="#c0c0c0"/>
<rect x="839" y="597" width="1" height="83" fill="#c0c0c0"/>
<rect x="847" y="593" width="1" height="87" fill="#c0c0c0"/>
<rect x="855" y="594" width="1" height="86" fill="#c0c0c0"/>
<rect x="863" y="599" width="1" height="81" fill="#c0c0c0"/>
<rect x="871" y="602" width="1" height="78" fill="#c0c0c0"/>
<rect x="879" y="602" width="1" height="78" fill="#c0c0c0"/>
<rect x="887" y="603" width="1" height="77" fill="#c0c0c0"/>
<rect x="895" y="605" width="1" height="75" fill="#c0c0c0"/>
<rect x="903" y="609" width="1" height="71" fill="#c0c0c0"/>
<rect x="911" y="612" width="1" height="68" fill="#c0c0c0"/>
<rect x="919" y="616" width="1" height="64" fill="#c0c0c0"/>
<rect x="927" y="609" width="1" height="71" fill="#c0c0c0"/>
<rect x="935" y="603" width="1" height="77" fill="#c0c0c0"/>
<rect x="943" y="602" width="1" height="78" fill="#c0c0c0"/>
<rect x="951" y="603" width="1" height="77" fill="#c0c0c0"/>
<rect x="959" y="606" width="1" height="74" fill="#c0c0c0"/>
<rect x="967" y="608" width="1" height="72" fill="#c0c0c0"/>
<rect x="975" y="610" width="1" height="70" fill="#c0c0c0"/>
<rect x="983" y="612" width="1" height="68" fill="#c0c0c0"/>
<rect x="991" y="616" width="1" height="64" fill="#c0c0c0"/>
<rect x="999" y="617" width="1" height="63" fill="#c0c0c0"/>
<rect x="1007" y="618" width="1" height="62" fill="#c0c0c0"/>
<rect x="1015" y="621" width="1" height="59" fill="#c0c0c0"/>
<rect x="1023" y="629" width="1" height="51" fill="#c0c0c0"/>
<rect x="1031" y="634" width="1" height="46" fill="#c0c0c0"/>
<rect x="1039" y="638" width="1" height="42" fill="#c0c0c0"/>
<rect x="1047" y="643" width="1" height="37" fill="#c0c0c0"/>
<rect x="1055" y="646" width="1" height="34" fill="#c0c0c0"/>
<rect x="1063" y="649" width="1" height="31" fill="#c0c0c0"/>
<rect x="1071" y="655" width="1" height="25" fill="#c0c0c0"/>
<rect x="1079" y="660" width="1" height="20" fill="#c0c0c0"/>
<rect x="1087" y="665" width="1" height="15" fill="#c0c0c0"/>
<rect x="1095" y="668" width="1" height="12" fill="#c0c0c0"/>
<rect x="1103" y="668" width="1" height="12" fill="#c0c0c0"/>
<rect x="1111" y="669" width="1" height="11" fill="#c0c0c0"/>
<rect x="1119" y="669" width="1" height="11" fill="#c0c0c0"/>
<rect x="1127" y="668" width="1" height="12" fill="#c0c0c0"/>
<rect x="1135" y="668" width="1" height="12" fill="#c0c0c0"/>
<rect x="1143" y="667" width="1" height="13" fill="#c0c0c0"/>
<rect x="1151" y="669" width="1" height="11" fill="#c0c0c0"/>
<rect x="1159" y="669" width="1" height="11" fill="#c0c0c0"/>
<rect x="1167" y="670" width="1" height="10" fill="#c0c0c0"/>
<rect x="1175" y="673" width="1" height="7" fill="#c0c0c0"/>
<rect x="1183" y="675" width="1" height="5" fill="#c0c0c0"/>
<rect x="1191" y="679" width="1" height="1" fill="#c0c0c0"/>
<rect x="1199" y="679" width="1" height="4" fill="#c0c0c0"/>
<rect x="1207" y="679" width="1" height="5" fill="#c0c0c0"/>
<rect x="1215" y="679" width="1" height="1" fill="#c0c0c0"/>
<rect x="1223" y="676" width="1" height="4" fill="#c0c0c0"/>
<rect x="1231" y="675" width="1" height="5" fill="#c0c0c0"/>
<rect x="1239" y="674" width="1" height="6" fill="#c0c0c0"/>
<rect x="1247" y="671" width="1" height="9" fill="#c0c0c0"/>
<rect x="1255" y="671" width="1" height="9" fill="#c0c0c0"/>
<rect x="1263" y="671" width="1" height="9" fill="#c0c0c0"/>
<rect x="1271" y="670" width="1" height="10" fill="#c0c0c0"/>
<rect x="1279" y="671" width="1" height="9" fill="#c0c0c0"/>
<rect x="1287" y="671" width="1" height="9" fill="#c0c0c0"/>
<g shape-rendering="crispEdges">
<polyline points="0.0,641.0 15.0,642.0 31.0,643.2 50.0,645.2 63.5,650.2 71.5,652.8 79.5,655.4 87.5,658.3 95.5,662.0 103.5,666.2 111.5,669.4 119.5,673.0 127.5,676.5 135.5,680.0 143.5,684.0 151.5,688.5 159.5,692.8 167.5,697.3 175.5,701.4 183.5,705.4 191.5,708.3 199.5,710.3 207.5,712.3 215.5,714.6 223.5,716.8 231.5,718.4 239.5,719.5 247.5,720.3 255.5,720.0 263.5,718.8 271.5,717.4 279.5,715.0 287.5,711.2 295.5,706.7 303.5,702.1 311.5,696.8 319.5,691.6 327.5,687.7 335.5,684.4 343.5,680.8 351.5,677.1 359.5,673.9 367.5,670.8 375.5,667.9 383.5,665.8 391.5,663.8 399.5,661.5 407.5,659.2 415.5,657.8 423.5,656.4 431.5,654.4 439.5,652.2 447.5,651.3 455.5,651.3 463.5,652.1 471.5,653.5 479.5,656.0 487.5,659.4 495.5,664.7 503.5,671.7 511.5,680.0 519.5,687.8 527.5,694.9 535.5,702.2 543.5,710.3 551.5,718.1 559.5,725.5 567.5,731.7 575.5,737.0 583.5,741.6 591.5,745.0 599.5,747.9 607.5,749.6 615.5,750.1 623.5,749.7 631.5,748.5 639.5,746.1 647.5,742.3 655.5,737.4 663.5,731.8 671.5,726.2 679.5,721.0 687.5,715.9 695.5,710.9 703.5,706.4 711.5,702.3 719.5,699.0 727.5,695.9 735.5,693.0 743.5,690.0 751.5,686.6 759.5,682.9 767.5,679.3 775.5,675.2 783.5,670.4 791.5,665.0 799.5,659.9 807.5,654.9 815.5,650.1 823.5,643.9 831.5,637.0 839.5,629.6 847.5,621.9 855.5,615.7 863.5,610.9 871.5,607.0 879.5,603.9 887.5,601.2 895.5,600.0 903.5,600.5 911.5,602.2 919.5,604.7 927.5,606.3 935.5,606.8 943.5,606.8 951.5,606.9 959.5,607.2 967.5,607.5 975.5,607.7 983.5,607.6 991.5,607.6 999.5,608.6 1007.5,610.2 1015.5,612.4 1023.5,615.3 1031.5,618.3 1039.5,621.7 1047.5,625.4 1055.5,629.1 1063.5,632.9 1071.5,637.1 1079.5,641.9 1087.5,646.8 1095.5,651.1 1103.5,654.9 1111.5,658.3 1119.5,661.2 1127.5,663.7 1135.5,665.8 1143.5,667.1 1151.5,668.0 1159.5,668.5 1167.5,668.8 1175.5,669.3 1183.5,670.0 1191.5,671.3 1199.5,673.0 1207.5,674.7 1215.5,676.1 1223.5,676.9 1231.5,677.5 1239.5,677.9 1247.5,677.7 1255.5,677.2 1263.5,676.1 1271.5,674.7 1279.5,673.2 1287.5,672.2" fill="none" stroke="#ff0000" stroke-width="1" stroke-dasharray="3,2.4"/>
<polyline points="0.0,829.5 7.5,831.0 15.5,831.4 23.5,816.9 31.5,817.9 39.5,857.4 47.5,847.4 55.5,851.9 63.5,849.5 71.5,847.4 79.5,845.9 87.5,854.8 95.5,853.1 103.5,851.9 111.5,851.6 119.5,867.2 127.5,867.6 135.5,863.5 143.5,872.3 151.5,874.7 159.5,872.6 167.5,875.2 175.5,861.2 183.5,864.2 191.5,860.2 199.5,853.2 207.5,870.8 215.5,880.4 223.5,871.4 231.5,862.4 239.5,863.8 247.5,857.0 255.5,839.8 263.5,840.4 271.5,843.9 279.5,845.8 287.5,844.6 295.5,846.0 303.5,845.4 311.5,834.6 319.5,842.9 327.5,847.0 335.5,838.7 343.5,828.4 351.5,830.3 359.5,844.2 367.5,838.5 375.5,838.6 383.5,843.4 391.5,838.8 399.5,832.1 407.5,832.4 415.5,835.8 423.5,827.1 431.5,823.8 439.5,823.5 447.5,857.4 455.5,857.7 463.5,855.3 471.5,849.1 479.5,857.4 487.5,863.0 495.5,873.0 503.5,873.2 511.5,874.5 519.5,874.6 527.5,870.1 535.5,879.9 543.5,884.0 551.5,877.2 559.5,878.3 567.5,880.0 575.5,880.1 583.5,881.6 591.5,867.7 599.5,870.1 607.5,873.5 615.5,869.0 623.5,867.3 631.5,867.6 639.5,852.0 647.5,841.1 655.5,842.0 663.5,835.8 671.5,848.9 679.5,861.8 687.5,851.7 695.5,850.2 703.5,856.7 711.5,845.9 719.5,844.2 727.5,836.3 735.5,835.0 743.5,834.0 751.5,846.4 759.5,836.3 767.5,839.6 775.5,837.7 783.5,822.0 791.5,821.8 799.5,825.3 807.5,821.8 815.5,825.7 823.5,811.6 831.5,810.2 839.5,811.2 847.5,813.2 855.5,823.5 863.5,829.2 871.5,828.1 879.5,822.5 887.5,822.8 895.5,822.8 903.5,828.6 911.5,827.0 919.5,828.9 927.5,811.9 935.5,810.9 943.5,816.1 951.5,823.9 959.5,826.4 967.5,822.8 975.5,825.3 983.5,822.9 991.5,829.4 999.5,825.2 1007.5,822.7 1015.5,830.1 1023.5,844.9 1031.5,838.8 1039.5,841.3 1047.5,843.4 1055.5,838.6 1063.5,843.2 1071.5,851.1 1079.5,851.4 1087.5,853.6 1095.5,848.7 1103.5,843.2 1111.5,843.7 1119.5,842.2 1127.5,839.2 1135.5,840.6 1143.5,836.8 1151.5,846.8 1159.5,842.3 1167.5,846.4 1175.5,853.2 1183.5,851.5 1191.5,864.8 1199.5,858.8 1207.5,851.4 1215.5,838.2 1223.5,835.7 1231.5,839.6 1239.5,842.2 1247.5,836.1 1255.5,841.1 1263.5,842.0 1271.5,840.5 1279.5,843.0 1287.5,844.8" fill="none" stroke="#1e90ff" stroke-width="1"/>
</g>
<!-- green box -->
<rect x="1209" y="99" width="101" height="12" fill="#00ff00"/>
<!-- axis and frames -->
<rect x="1627" y="27" width="1" height="553" fill="#000"/>
<rect x="0" y="580" width="1628" height="1" fill="#000"/>
<rect x="0" y="582" width="1628" height="1" fill="#000"/>
<rect x="1627" y="582" width="1" height="184" fill="#000"/>
<rect x="0" y="765" width="1628" height="1" fill="#000"/>
<rect x="0" y="767" width="1628" height="1" fill="#000"/>
<rect x="1627" y="767" width="1" height="161" fill="#000"/>
<rect x="0" y="927" width="1628" height="1" fill="#000"/>
<!-- rsi levels -->
<g stroke="#c0c0c0" stroke-width="1" stroke-dasharray="3,3">
<line x1="0" y1="800.5" x2="1627" y2="800.5"/>
<line x1="0" y1="847.5" x2="1627" y2="847.5"/>
<line x1="0" y1="903.5" x2="1627" y2="903.5"/>
</g>
</svg>

<svg class="abs" style="left:2px;top:32px" width="8" height="6"><polygon points="0,5 7,5 3.5,1" fill="#000"/></svg>
<div class="t" id="title" style="left:14px;top:30px;font-size:8.8px;line-height:11px;margin-top:0.8px;transform:scaleX(1.055);transform-origin:0 50%;">USDJPY-,H4&nbsp; 108.613 108.615 108.595 108.597</div>
<div class="abs" style="left:2px;top:47px;width:52px;height:25px;background:linear-gradient(#f84c4c,#e83838);box-sizing:border-box;border:1px solid #c00000;border-bottom:none"></div>
<div class="abs" style="left:169px;top:47px;width:52px;height:25px;background:linear-gradient(#f84c4c,#e83838);box-sizing:border-box;border:1px solid #c00000;border-bottom:none"></div>
<div class="abs" style="left:2px;top:71px;width:109px;height:40px;background:linear-gradient(#e43434,#b00000);box-sizing:border-box;border:1px solid #c00000;border-top:none"></div>
<div class="abs" style="left:113px;top:71px;width:108px;height:40px;background:linear-gradient(#e43434,#b00000);box-sizing:border-box;border:1px solid #c00000;border-top:none"></div>
<div class="abs" style="left:6px;top:69px;width:44px;height:1px;background:#a80000"></div><div class="abs" style="left:6px;top:70px;width:44px;height:1px;background:#ff8080"></div>
<div class="abs" style="left:173px;top:69px;width:44px;height:1px;background:#a80000"></div><div class="abs" style="left:173px;top:70px;width:44px;height:1px;background:#ff8080"></div>
<div class="t" style="left:1px;top:52.1px;width:52px;text-align:center;font-size:13px;line-height:14px;color:#fff;transform:scaleX(0.8)">SELL</div>
<div class="t" style="left:168px;top:52.1px;width:52px;text-align:center;font-size:13px;line-height:14px;color:#fff;transform:scaleX(0.8)">BUY</div>
<div class="abs" style="left:56px;top:47px;width:111px;height:22px;box-sizing:border-box;border:1px solid #a0a0a0;background:#fff"></div>
<div class="abs" style="left:57px;top:48px;width:20px;height:20px;background:linear-gradient(#f4f4f4,#dcdcdc);border-right:1px solid #b0b0b0"></div>
<div class="abs" style="left:145px;top:48px;width:21px;height:20px;background:linear-gradient(#f4f4f4,#dcdcdc);border-left:1px solid #b0b0b0;box-sizing:border-box"></div>
<svg class="abs" style="left:63px;top:56px" width="8" height="5"><polygon points="0.5,0.5 6.5,0.5 3.5,3.8" fill="#000"/></svg>
<svg class="abs" style="left:152px;top:55px" width="8" height="5"><polygon points="0.5,4 6.5,4 3.5,0.7" fill="#000"/></svg>
<div class="t" style="left:100px;top:50.8px;width:42px;text-align:right;font-size:12.3px;line-height:15px;color:#000">1.00</div>
<div class="t" style="left:25px;top:90.8px;font-size:13px;line-height:14px;color:#fff;font-weight:bold;letter-spacing:-0.3px">108</div>
<div class="t" style="left:50px;top:72.3px;font-size:34px;line-height:36px;color:#fff;letter-spacing:-2.4px">59</div>
<div class="t" style="left:88.5px;top:74px;font-size:14px;line-height:16px;color:#fff;font-weight:bold">7</div>
<div class="t" style="left:135px;top:90.8px;font-size:13px;line-height:14px;color:#fff;font-weight:bold;letter-spacing:-0.3px">108</div>
<div class="t" style="left:160px;top:72.3px;font-size:34px;line-height:36px;color:#fff;letter-spacing:-2.4px">62</div>
<div class="t" style="left:198.5px;top:74px;font-size:14px;line-height:16px;color:#fff;font-weight:bold">0</div>
<div class="tick" style="top:49px"></div><div class="axl" style="top:44px">108.960</div>
<div class="tick" style="top:115px"></div><div class="axl" style="top:110px">108.645</div>
<div class="tick" style="top:148px"></div><div class="axl" style="top:143px">108.485</div>
<div class="tick" style="top:181px"></div><div class="axl" style="top:176px">108.325</div>
<div class="tick" style="top:214px"></div><div class="axl" style="top:209px">108.170</div>
<div class="tick" style="top:247px"></div><div class="axl" style="top:242px">108.010</div>
<div class="tick" style="top:280px"></div><div class="axl" style="top:275px">107.850</div>
<div class="tick" style="top:313px"></div><div class="axl" style="top:308px">107.690</div>
<div class="tick" style="top:346px"></div><div class="axl" style="top:341px">107.535</div>
<div class="tick" style="top:379px"></div><div class="axl" style="top:374px">107.375</div>
<div class="tick" style="top:412px"></div><div class="axl" style="top:407px">107.215</div>
<div class="tick" style="top:445px"></div><div class="axl" style="top:440px">107.055</div>
<div class="tick" style="top:478px"></div><div class="axl" style="top:473px">106.900</div>
<div class="tick" style="top:511px"></div><div class="axl" style="top:506px">106.740</div>
<div class="tick" style="top:544px"></div><div class="axl" style="top:539px">106.580</div>
<div class="tick" style="top:577px"></div><div class="axl" style="top:572px">106.420</div>
<div class="plab" style="top:50px;background:#ff0000"><span>108.926</span></div>
<div class="plab" style="top:76px;background:#ff0000"><span>108.801</span></div>
<div class="plab" style="top:99px;background:#32cd32"><span>108.690</span></div>
<div class="plab" style="top:120px;background:#000000"><span>108.597</span></div>
<div class="plab" style="top:152px;background:#0000ff"><span>108.436</span></div>
<div class="plab" style="top:180px;background:#0000ff"><span>108.301</span></div>
<div class="abs" style="left:1621px;top:101px;width:6px;height:7px;box-sizing:border-box;border:2px solid #32cd32;background:#fff"></div>
<div class="abs" style="left:1410px;top:104px;width:8px;height:1px;background:#ff0000"></div>
<div class="abs" style="left:1415px;top:103px;width:3px;height:4px;box-sizing:border-box;border:1px solid #ff0000;background:#fff"></div>
<div class="abs" id="bigp" style="left:1418px;top:89px;width:100px;height:33px;box-sizing:border-box;border:1px solid #ff0000;background:#fff;color:#ff0000;font-size:27px;line-height:33px;text-align:center;white-space:nowrap;letter-spacing:-0.5px">108.690</div>
<div class="t" id="cn" style="left:1401.5px;top:207px;font-family:'Liberation Serif','Noto Serif CJK SC',serif;font-weight:600;font-size:29.5px;line-height:36px;letter-spacing:3.2px;color:#08f408;text-shadow:1px 1px 0 #104810">多空转折点</div>
<svg class="abs" style="left:1294px;top:28px" width="12" height="6"><polygon points="0,0 11,0 5.5,5" fill="#c0c0c0"/></svg>
<div class="t" style="left:3px;top:586px;font-size:8.8px;line-height:11px;margin-top:0.4px;transform:scaleX(1.065);transform-origin:0 50%">MACD(12,26,9) 0.0316 0.0280</div>
<div class="t" style="left:3px;top:771px;font-size:8.8px;line-height:11px;margin-top:0.4px;transform:scaleX(1.053);transform-origin:0 50%">RSI(14) 52.1908</div>
<div class="axl" style="left:1631px;top:584px">0.3614</div>
<div class="axl" style="left:1631px;top:674px">0.00</div>
<div class="axl" style="left:1631px;top:753px">-0.3209</div>
<div class="axl" style="left:1631px;top:769px">100</div>
<div class="axl" style="left:1631px;top:795px">80</div>
<div class="axl" style="left:1631px;top:842px">50</div>
<div class="axl" style="left:1631px;top:898px">15</div>
<div class="axl" style="left:1631px;top:915px">0</div>
<div class="tick" style="top:679px;width:3px"></div>
<div class="tick" style="top:800px;width:3px"></div>
<div class="tick" style="top:847px;width:3px"></div>
<div class="tick" style="top:903px;width:3px"></div>
<div class="tl" style="left:0px">18 Sep 2019</div>
<div class="tt" style="left:63px"></div>
<div class="tl" style="left:63px">19 Sep 12:00</div>
<div class="tt" style="left:127px"></div>
<div class="tl" style="left:127px">22 Sep 23:00</div>
<div class="tt" style="left:191px"></div>
<div class="tl" style="left:191px">24 Sep 04:00</div>
<div class="tt" style="left:255px"></div>
<div class="tl" style="left:255px">25 Sep 12:00</div>
<div class="tt" style="left:319px"></div>
<div class="tl" style="left:319px">26 Sep 20:00</div>
<div class="tt" style="left:383px"></div>
<div class="tl" style="left:383px">30 Sep 04:00</div>
<div class="tt" style="left:447px"></div>
<div class="tl" style="left:447px">1 Oct 12:00</div>
<div class="tt" style="left:511px"></div>
<div class="tl" style="left:511px">2 Oct 20:00</div>
<div class="tt" style="left:575px"></div>
<div class="tl" style="left:575px">4 Oct 04:00</div>
<div class="tt" style="left:639px"></div>
<div class="tl" style="left:639px">7 Oct 12:00</div>
<div class="tt" style="left:703px"></div>
<div class="tl" style="left:703px">8 Oct 20:00</div>
<div class="tt" style="left:767px"></div>
<div class="tl" style="left:767px">10 Oct 04:00</div>
<div class="tt" style="left:831px"></div>
<div class="tl" style="left:831px">11 Oct 12:00</div>
<div class="tt" style="left:895px"></div>
<div class="tl" style="left:895px">14 Oct 20:00</div>
<div class="tt" style="left:959px"></div>
<div class="tl" style="left:959px">16 Oct 04:00</div>
<div class="tt" style="left:1023px"></div>
<div class="tl" style="left:1023px">17 Oct 12:00</div>
<div class="tt" style="left:1087px"></div>
<div class="tl" style="left:1087px">20 Oct 23:00</div>
<div class="tt" style="left:1151px"></div>
<div class="tl" style="left:1151px">22 Oct 04:00</div>
<div class="tt" style="left:1215px"></div>
<div class="tl" style="left:1215px">23 Oct 12:00</div>
<div class="tt" style="left:1279px"></div>
<div class="tl" style="left:1279px">24 Oct 20:00</div>
<div class="abs" style="left:0;top:948px;width:1674px;height:1px;background:#e4e4e4"></div><div class="abs" style="left:1673px;top:25px;width:1px;height:924px;background:#e4e4e4"></div>
</body></html>
